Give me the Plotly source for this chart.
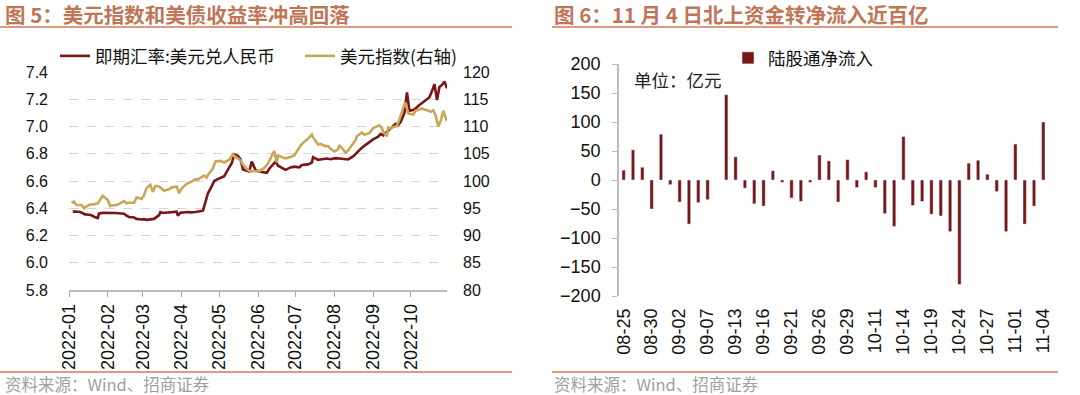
import plotly.graph_objects as go

W, H = 1080, 395

# ---------------- Left chart data: USD/CNY spot (left axis) & DXY (right axis)
fx_dates = ["2022-01-04", "2022-01-06", "2022-01-10", "2022-01-12", "2022-01-14", "2022-01-17",
            "2022-01-19", "2022-01-21", "2022-01-24", "2022-01-25", "2022-01-28", "2022-02-07",
            "2022-02-10", "2022-02-14", "2022-02-16", "2022-02-18", "2022-02-22", "2022-02-24",
            "2022-02-28", "2022-03-02", "2022-03-04", "2022-03-08", "2022-03-10", "2022-03-14",
            "2022-03-15", "2022-03-17", "2022-03-21", "2022-03-23", "2022-03-25", "2022-03-28",
            "2022-03-29", "2022-03-31", "2022-04-06", "2022-04-08", "2022-04-12", "2022-04-14",
            "2022-04-18", "2022-04-20", "2022-04-22", "2022-04-25", "2022-04-27", "2022-04-29",
            "2022-05-05", "2022-05-09", "2022-05-11", "2022-05-13", "2022-05-16", "2022-05-18",
            "2022-05-20", "2022-05-23", "2022-05-25", "2022-05-27", "2022-05-30", "2022-06-01",
            "2022-06-06", "2022-06-08", "2022-06-10", "2022-06-13", "2022-06-15", "2022-06-17",
            "2022-06-21", "2022-06-23", "2022-06-27", "2022-06-30", "2022-07-04", "2022-07-06",
            "2022-07-11", "2022-07-14", "2022-07-15", "2022-07-19", "2022-07-22", "2022-07-26",
            "2022-07-29", "2022-08-02", "2022-08-05", "2022-08-09", "2022-08-12", "2022-08-16",
            "2022-08-19", "2022-08-23", "2022-08-26", "2022-08-30", "2022-09-01", "2022-09-05",
            "2022-09-07", "2022-09-09", "2022-09-13", "2022-09-15", "2022-09-19", "2022-09-21",
            "2022-09-23", "2022-09-26", "2022-09-28", "2022-09-30", "2022-10-04", "2022-10-07",
            "2022-10-10", "2022-10-13", "2022-10-16", "2022-10-18", "2022-10-20", "2022-10-22",
            "2022-10-24", "2022-10-26", "2022-10-28", "2022-10-30"]
fx_values = [6.375, 6.376, 6.372, 6.364, 6.355, 6.352,
             6.348, 6.338, 6.328, 6.362, 6.366, 6.365,
             6.362, 6.360, 6.345, 6.336, 6.332, 6.322,
             6.318, 6.320, 6.315, 6.318, 6.322, 6.350,
             6.372, 6.365, 6.370, 6.373, 6.372, 6.375,
             6.345, 6.367, 6.372, 6.370, 6.373, 6.376,
             6.382, 6.445, 6.510, 6.560, 6.600, 6.610,
             6.635, 6.700, 6.730, 6.795, 6.785, 6.760,
             6.685, 6.675, 6.670, 6.742, 6.680, 6.672,
             6.665, 6.660, 6.690, 6.720, 6.742, 6.712,
             6.690, 6.682, 6.700, 6.705, 6.700, 6.717,
             6.722, 6.735, 6.775, 6.755, 6.760, 6.765,
             6.760, 6.768, 6.765, 6.760, 6.758, 6.780,
             6.810, 6.845, 6.865, 6.895, 6.905, 6.925,
             6.945, 6.935, 6.970, 6.990, 7.020, 7.010,
             7.035, 7.100, 7.250, 7.115, 7.125, 7.150,
             7.170, 7.190, 7.215, 7.260, 7.310, 7.195,
             7.290, 7.305, 7.330, 7.280]

dxy_dates = ["2022-01-03", "2022-01-05", "2022-01-07", "2022-01-11", "2022-01-13", "2022-01-14",
             "2022-01-18", "2022-01-20", "2022-01-24", "2022-01-26", "2022-01-28", "2022-02-01",
             "2022-02-03", "2022-02-04", "2022-02-08", "2022-02-10", "2022-02-14", "2022-02-16",
             "2022-02-18", "2022-02-22", "2022-02-24", "2022-02-28", "2022-03-02", "2022-03-04",
             "2022-03-07", "2022-03-09", "2022-03-11", "2022-03-14", "2022-03-16", "2022-03-18",
             "2022-03-22", "2022-03-24", "2022-03-28", "2022-03-30", "2022-04-01", "2022-04-05",
             "2022-04-08", "2022-04-12", "2022-04-14", "2022-04-19", "2022-04-21", "2022-04-22",
             "2022-04-26", "2022-04-28", "2022-05-02", "2022-05-05", "2022-05-09", "2022-05-12",
             "2022-05-13", "2022-05-16", "2022-05-18", "2022-05-20", "2022-05-24", "2022-05-26",
             "2022-05-31", "2022-06-02", "2022-06-06", "2022-06-09", "2022-06-13", "2022-06-14",
             "2022-06-16", "2022-06-17", "2022-06-22", "2022-06-24", "2022-06-28", "2022-06-30",
             "2022-07-05", "2022-07-07", "2022-07-12", "2022-07-14", "2022-07-15", "2022-07-19",
             "2022-07-21", "2022-07-25", "2022-07-27", "2022-07-29", "2022-08-01", "2022-08-04",
             "2022-08-05", "2022-08-10", "2022-08-12", "2022-08-15", "2022-08-18", "2022-08-19",
             "2022-08-23", "2022-08-25", "2022-08-29", "2022-09-01", "2022-09-06", "2022-09-08",
             "2022-09-09", "2022-09-12", "2022-09-13", "2022-09-15", "2022-09-16", "2022-09-20",
             "2022-09-22", "2022-09-26", "2022-09-27", "2022-09-29", "2022-10-03", "2022-10-05",
             "2022-10-07", "2022-10-10", "2022-10-12", "2022-10-14", "2022-10-17", "2022-10-19",
             "2022-10-21", "2022-10-23", "2022-10-25", "2022-10-27", "2022-10-30"]
dxy_values = [96.0, 96.2, 95.6, 95.6, 95.0, 95.2,
              95.7, 95.7, 95.9, 96.5, 97.3, 96.5,
              95.4, 95.5, 95.6, 95.8, 96.3, 95.9,
              96.0, 96.0, 97.0, 96.7, 97.4, 98.7,
              99.3, 98.0, 99.1, 99.0, 98.6, 98.2,
              98.5, 98.8, 99.0, 97.8, 98.6, 99.5,
              99.8, 100.3, 100.3, 101.0, 100.6, 101.1,
              102.3, 103.6, 103.7, 103.4, 103.9, 104.9,
              104.6, 104.2, 103.8, 103.0, 102.0, 101.8,
              101.8, 101.8, 102.4, 103.2, 105.1, 105.5,
              103.4, 104.7, 104.2, 104.2, 104.5, 104.7,
              106.5, 107.0, 108.0, 108.5, 108.0, 106.7,
              106.8, 106.4, 106.4, 105.9, 105.4, 105.8,
              106.6, 105.2, 105.6, 106.5, 107.5, 108.2,
              108.9, 108.5, 108.8, 109.7, 110.2, 109.7,
              109.0, 108.2, 109.8, 109.6, 109.8, 110.1,
              111.3, 114.1, 114.2, 112.4, 112.2, 112.9,
              113.1, 113.3, 113.1, 113.0, 112.7, 113.0,
              112.0, 110.0, 111.0, 112.9, 111.0]

# ---------------- Right chart data: northbound net inflow (100 mn CNY)
flow_dates = ["08-25", "08-26", "08-29", "08-30", "08-31", "09-01", "09-02", "09-05", "09-06",
              "09-07", "09-08", "09-09", "09-13", "09-14", "09-15", "09-16", "09-19", "09-20",
              "09-21", "09-22", "09-23", "09-26", "09-27", "09-28", "09-29", "09-30", "10-10",
              "10-11", "10-12", "10-13", "10-14", "10-17", "10-18", "10-19", "10-20", "10-21",
              "10-24", "10-25", "10-26", "10-27", "10-28", "10-31", "11-01", "11-02", "11-03",
              "11-04"]
flow_values = [17, 52, 22, -50, 79, -8, -38, -76, -39,
               -34, 0, 147, 40, -14, -41, -45, 16, -4,
               -31, -37, -4, 43, 33, -38, 35, -13, 14,
               -13, -58, -80, 75, -44, -37, -59, -62, -89,
               -180, 29, 34, 10, -20, -89, 62, -76, -45,
               100]

RED = "#7A1517"
GOLD = "#C9A658"
BAR = "#761616"
TITLE_C = "#BE7657"
RULE_C = "#DC9A7E"
GRAY_T = "#A0A0A0"
FONT = "Liberation Sans, Arial, Noto Sans CJK SC, sans-serif"
CJK = "Noto Sans CJK SC, sans-serif"


def fx_(a, b):
    return [a / W, b / W]


def fy_(top, bottom):
    return [1 - bottom / H, 1 - top / H]


fig = go.Figure()

fig.add_trace(go.Scatter(x=dxy_dates, y=dxy_values, mode="lines", name="美元指数(右轴)",
                         line=dict(color=GOLD, width=2.6), xaxis="x", yaxis="y3",
                         legend="legend", legendrank=2))
fig.add_trace(go.Scatter(x=fx_dates, y=fx_values, mode="lines", name="即期汇率:美元兑人民币",
                         line=dict(color=RED, width=2.6), xaxis="x", yaxis="y",
                         legend="legend", legendrank=1))
fig.add_trace(go.Bar(x=flow_dates, y=flow_values, name="陆股通净流入", marker_color=BAR,
                     xaxis="x2", yaxis="y2", legend="legend2"))

ly_dom = fy_(72, 290)
ry_dom = fy_(64, 296)
zero_pos = ry_dom[0] + (0 - (-200)) / 400 * (ry_dom[1] - ry_dom[0])

fig.update_layout(
    width=W, height=H,
    margin=dict(l=0, r=0, t=0, b=0, autoexpand=False),
    paper_bgcolor="white", plot_bgcolor="white",
    font=dict(family=FONT, color="#111111", size=16),
    bargap=0.64,
    xaxis=dict(domain=fx_(69, 447), anchor="y", type="date", automargin=False,
               range=["2022-01-01", "2022-10-30"], tick0="2022-01-01", dtick="M1",
               tickformat="%Y-%m", tickangle=-90, tickfont=dict(size=18),
               ticks="outside", ticklen=5, tickcolor="#A6A6A6",
               showline=True, linecolor="#BDBDBD", linewidth=1.5,
               showgrid=False, zeroline=False),
    yaxis=dict(domain=ly_dom, anchor="x", range=[5.8, 7.4], dtick=0.2, tickformat=".1f",
               automargin=False,
               tickfont=dict(size=16), showgrid=True, gridcolor="#D6D6D6", griddash="dash",
               gridwidth=1, zeroline=False, showline=False, ticks="", ticklabelstandoff=20),
    yaxis3=dict(overlaying="y", anchor="x", side="right", range=[80, 120], dtick=5,
                automargin=False,
                tickfont=dict(size=16), showgrid=False, zeroline=False, showline=False,
                ticks="", ticklabelstandoff=15),
    xaxis2=dict(domain=fx_(619, 1048), anchor="y2", type="category", automargin=False,
                categoryorder="array", categoryarray=flow_dates,
                range=[-0.5, len(flow_dates) - 0.5],
                tickmode="array", tickvals=flow_dates[::3], ticktext=flow_dates[::3],
                tickangle=-90, tickfont=dict(size=18), ticks="", showline=False,
                showgrid=False, zeroline=False, ticklabelstandoff=8),
    xaxis3=dict(overlaying="x2", anchor="free", position=zero_pos, type="linear",
                automargin=False,
                range=[-0.5, len(flow_dates) - 0.5],
                tickmode="array", tickvals=[i - 0.5 for i in range(len(flow_dates) + 1)],
                showticklabels=False, ticks="outside", ticklen=4, tickcolor="#BDBDBD",
                showline=True, linecolor="#BDBDBD", linewidth=1.5, showgrid=False,
                zeroline=False),
    yaxis2=dict(domain=ry_dom, anchor="x2", range=[-200, 200], dtick=50, automargin=False,
                tickfont=dict(size=18), showgrid=False, zeroline=False,
                showline=True, linecolor="#BDBDBD", linewidth=1.5,
                ticks="outside", ticklen=5, tickcolor="#BDBDBD", ticklabelstandoff=8),
    legend=dict(orientation="h", x=55 / W, y=1 - 38 / H, xanchor="left", yanchor="top",
                font=dict(size=17.5, family=CJK), bgcolor="rgba(0,0,0,0)",
                entrywidth=200, entrywidthmode="pixels", itemwidth=30, traceorder="normal"),
    legend2=dict(orientation="h", x=728 / W, y=1 - 40 / H, xanchor="left", yanchor="top",
                 font=dict(size=17.5, family=CJK), bgcolor="rgba(0,0,0,0)", itemwidth=30),
)

# titles, rules and source notes
fig.add_annotation(text="<b>图 5：美元指数和美债收益率冲高回落</b>", x=3 / W, y=1 - 14 / H,
                   xref="paper", yref="paper", xanchor="left", yanchor="middle",
                   showarrow=False, font=dict(size=20.5, color=TITLE_C, family=CJK))
fig.add_annotation(text="<b>图 6：11 月 4 日北上资金转净流入近百亿</b>", x=552 / W, y=1 - 14 / H,
                   xref="paper", yref="paper", xanchor="left", yanchor="middle",
                   showarrow=False, font=dict(size=20.5, color=TITLE_C, family=CJK))
for x0, x1 in [(0, 512), (552, 1058)]:
    fig.add_shape(type="line", xref="paper", yref="paper", x0=x0 / W, x1=x1 / W,
                  y0=1 - 27 / H, y1=1 - 27 / H, line=dict(color=RULE_C, width=2))
    fig.add_shape(type="line", xref="paper", yref="paper", x0=x0 / W, x1=x1 / W,
                  y0=1 - 372 / H, y1=1 - 372 / H, line=dict(color=RULE_C, width=2))
for x0 in [3, 552]:
    fig.add_annotation(text="资料来源：Wind、招商证券", x=x0 / W, y=1 - 384 / H,
                       xref="paper", yref="paper", xanchor="left", yanchor="middle",
                       showarrow=False, font=dict(size=16.5, color=GRAY_T, family=CJK))
fig.add_annotation(text="单位：亿元", x=632 / W, y=1 - 80 / H, xref="paper", yref="paper",
                   xanchor="left", yanchor="middle", showarrow=False,
                   font=dict(size=17.5, color="#222222", family=CJK))

fig.write_html("out.html", config={"displayModeBar": False},
               post_script="document.body.style.margin='0';document.body.style.padding='0';")
